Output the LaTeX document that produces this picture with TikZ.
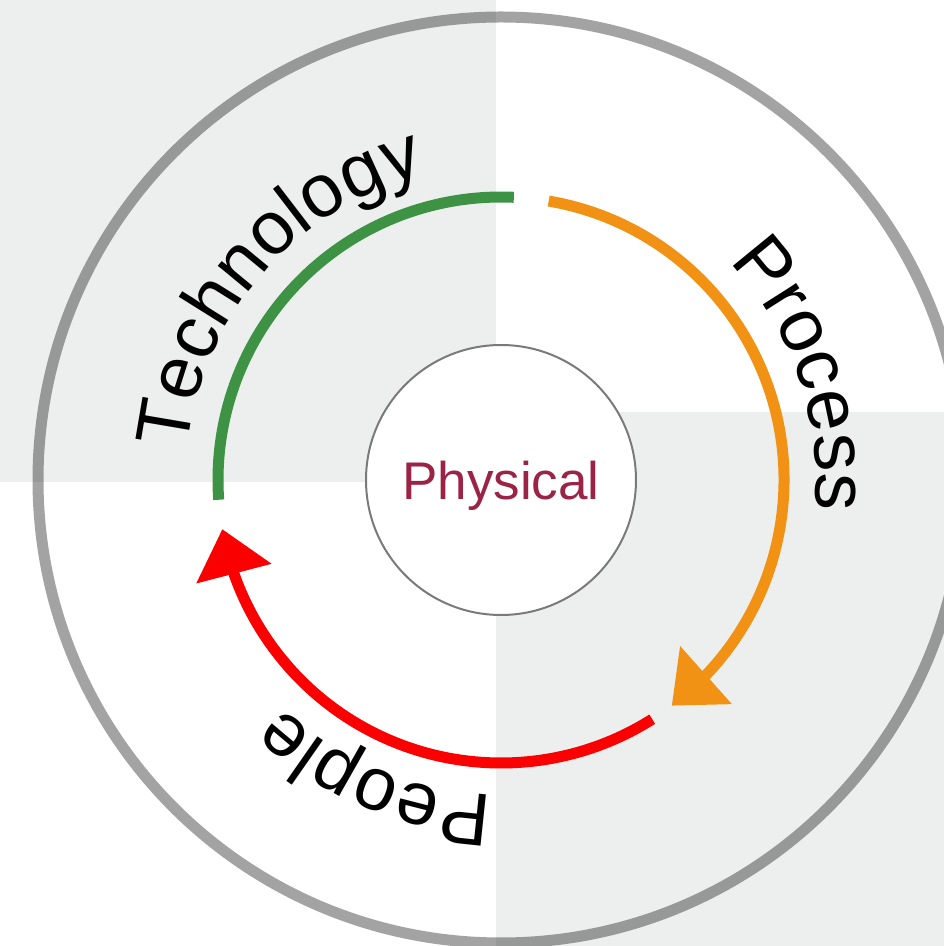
\documentclass[tikz,border=0pt]{standalone}
\usepackage{fontspec}
\setmainfont{Liberation Sans}
\usetikzlibrary{arrows.meta,bending,decorations.text}
\definecolor{bgg}{RGB}{237,239,238}
\definecolor{coreline}{RGB}{122,122,122}
\definecolor{techgreen}{RGB}{61,146,67}
\definecolor{procorange}{RGB}{242,146,20}
\definecolor{peoplered}{RGB}{250,0,0}
\definecolor{physred}{RGB}{155,35,70}
\tikzset{
  cyclearc/.style={line width=11pt},
  bigtip/.style={-{Triangle[length=46pt,width=75pt,flex]}},
  curvelabel/.style={decorate,decoration={text along path,text align={left},text={|\fontsize{75}{90}\selectfont|#1}}}
}
\begin{document}
\begin{tikzpicture}[x=1pt,y=1pt]
\useasboundingbox (0,0) rectangle (944,946);
\clip (0,0) rectangle (944,946);
\coordinate (C) at (501,466);
% background quadrants
\fill[bgg] (0,464) rectangle (496,946);
\fill[bgg] (496,0) rectangle (944,534);
% outer ring
\draw[line width=11pt,draw=black,draw opacity=0.36] (C) circle[radius=463];
% core
\node[circle,draw=coreline,line width=2pt,fill=white,minimum size=270pt,inner sep=0pt] (core) at (C) {};
\node[anchor=base,inner sep=0pt,text=physred,font=\fontsize{53}{60}\selectfont] (phys) at (501,446) {Physical};
% cycle arcs
\draw[cyclearc,techgreen] ([shift={(184:283)}]C) arc[start angle=184,end angle=87.4,radius=283];
\draw[cyclearc,procorange,bigtip] ([shift={(80.3:283)}]C) arc[start angle=80.3,end angle=-52.9,radius=283];
\draw[cyclearc,peoplered,bigtip] ([shift={(-57.7:283)}]C) arc[start angle=-57.7,end angle=-170,radius=283];
% curved labels
\path[curvelabel={Technology}] ([shift={(174.5:315)}]C) arc[start angle=174.5,end angle=80,radius=315];
\path[curvelabel={Process}] ([shift={(43.8:315)}]C) arc[start angle=43.8,end angle=-30,radius=315];
\path[curvelabel={People}] ([shift={(-91.5:315)}]C) arc[start angle=-91.5,end angle=-170,radius=315];
\end{tikzpicture}
\end{document}
